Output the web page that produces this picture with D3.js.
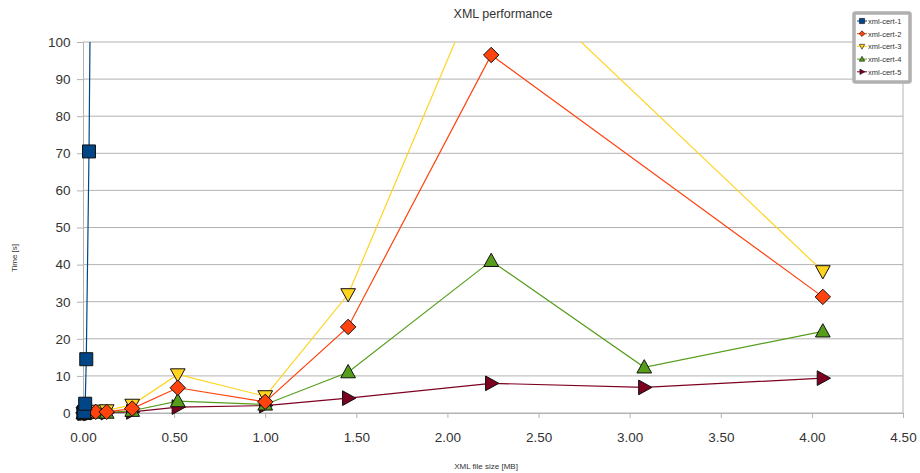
<!DOCTYPE html>
<html>
<head>
<meta charset="utf-8">
<script src="https://cdn.jsdelivr.net/npm/d3@7/dist/d3.min.js"></script>
<style>
  html, body { margin: 0; padding: 0; background: #fff; }
  svg { display: block; font-family: "Liberation Sans", "DejaVu Sans", sans-serif; }
</style>
</head>
<body>
<svg id="chart" width="920" height="473"></svg>
<script>
// ---- data ----
const sizes = [0.002, 0.006, 0.012, 0.018, 0.033, 0.07, 0.13, 0.27, 0.52, 1.0, 1.455, 2.24, 3.08, 4.06];
const seriesNames = ["xml-cert-1", "xml-cert-2", "xml-cert-3", "xml-cert-4", "xml-cert-5"];
const cert1 = [0, 0.3, 2.5, 14.5, 70.5, 280, null, null, null, null, null, null, null, null];
const cert2 = [0, 0, 0.1, 0.1, 0.2, 0.3, 0.3, 1.2, 6.8, 3.0, 23.2, 96.5, null, 31.3];
const cert3 = [0, 0, 0.1, 0.2, 0.3, 0.6, 0.7, 2.2, 10.4, 4.5, 32, 123, null, 38.2];
const cert4 = [0, 0, 0, 0.1, 0.1, 0.1, 0.1, 0.6, 3.2, 2.3, 11, 41, 12.3, 22];
const cert5 = [0, 0, 0, 0, 0.1, 0.1, 0.1, 0.3, 1.6, 2.0, 4.0, 8.0, 6.9, 9.4];
const xTicks = [0, 0.5, 1, 1.5, 2, 2.5, 3, 3.5, 4, 4.5];
const yTicks = [0, 10, 20, 30, 40, 50, 60, 70, 80, 90, 100];
const colors = ["#004586", "#ff420e", "#ffd320", "#579d1c", "#7e0021"];
const shapes = ["square", "diamond", "down", "up", "right"];
const allSeries = [cert1, cert2, cert3, cert4, cert5];

// ---- layout ----
const svg = d3.select("#chart");
const L = 83, R = 903, T = 42, B = 413;
const x = d3.scaleLinear().domain([0, 4.5]).range([L, R]);
const y = d3.scaleLinear().domain([0, 100]).range([B, T]);

svg.append("defs").append("clipPath").attr("id", "clip")
  .append("rect").attr("x", L - 10).attr("y", T).attr("width", R - L + 20).attr("height", B - T + 10);

// gridlines
svg.append("g").selectAll("line").data(yTicks).join("line")
  .attr("x1", L).attr("x2", R).attr("y1", d => y(d)).attr("y2", d => y(d))
  .attr("stroke", "#b3b3b3").attr("stroke-width", 1);

// right border
svg.append("line").attr("x1", R).attr("x2", R).attr("y1", T).attr("y2", B)
  .attr("stroke", "#b3b3b3");

// axes
const xAxis = svg.append("g").attr("transform", `translate(0,${B})`)
  .call(d3.axisBottom(x).tickValues(xTicks).tickFormat(d3.format(".2f")).tickSize(5).tickSizeOuter(0));
const yAxis = svg.append("g").attr("transform", `translate(${L},0)`)
  .call(d3.axisLeft(y).tickValues(yTicks).tickFormat(d3.format("d")).tickSize(6).tickSizeOuter(0));
[xAxis, yAxis].forEach(g => {
  g.select(".domain").attr("stroke", "#b3b3b3");
  g.selectAll(".tick line").attr("stroke", "#b3b3b3");
  g.selectAll(".tick text").attr("fill", "#333").attr("font-size", 13.5)
    .attr("font-family", "Liberation Sans, DejaVu Sans, sans-serif");
});
xAxis.selectAll(".tick text").attr("dy", "1.55em");
yAxis.selectAll(".tick text").attr("dx", "-0.25em");

// symbol path generator
function symbolPath(shape, s) {
  switch (shape) {
    case "square": return `M${-s},${-s}H${s}V${s}H${-s}Z`;
    case "diamond": { const d = s * 1.1; return `M0,${-d}L${d},0L0,${d}L${-d},0Z`; }
    case "up": return `M0,${-s * 1.1}L${s * 1.05},${s * 0.8}L${-s * 1.05},${s * 0.8}Z`;
    case "down": return `M0,${s * 1.1}L${s * 1.05},${-s * 0.8}L${-s * 1.05},${-s * 0.8}Z`;
    case "right": return `M${s * 1.1},0L${-s * 0.8},${s * 1.05}L${-s * 0.8},${-s * 1.05}Z`;
  }
}

const plot = svg.append("g").attr("clip-path", "url(#clip)");
const line = d3.line().defined(d => d[1] != null).x(d => x(d[0])).y(d => y(d[1]));
const order = [4, 3, 2, 1, 0];

order.forEach(i => {
  const vals = allSeries[i];
  const pts = sizes.map((s, j) => [s, vals[j]]).filter(d => d[1] != null);
  plot.append("path").datum(pts).attr("d", line)
    .attr("fill", "none").attr("stroke", colors[i]).attr("stroke-width", 1.2);
});
// markers: last series drawn first so the first series lies on top
order.forEach(i => {
  const vals = allSeries[i];
  const pts = sizes.map((s, j) => [s, vals[j]]).filter(d => d[1] != null && d[1] <= 100);
  plot.append("g").selectAll("path").data(pts).join("path")
    .attr("transform", d => `translate(${x(d[0])},${y(d[1])})`)
    .attr("d", symbolPath(shapes[i], i === 0 ? 6.5 : 7))
    .attr("fill", colors[i]).attr("stroke", "#111").attr("stroke-width", 1);
});

// title
svg.append("text").attr("x", 503).attr("y", 18).attr("text-anchor", "middle")
  .attr("font-size", 12.5).attr("fill", "#333").text("XML performance");
// axis titles
svg.append("text").attr("x", 486).attr("y", 469).attr("text-anchor", "middle")
  .attr("font-size", 8).attr("fill", "#333").text("XML file size [MB]");
svg.append("text").attr("transform", "translate(17,258) rotate(-90)").attr("text-anchor", "middle")
  .attr("font-size", 8).attr("fill", "#333").text("Time [s]");

// legend
const lg = svg.append("g");
lg.append("rect").attr("x", 854).attr("y", 13).attr("width", 56).attr("height", 69)
  .attr("fill", "#fff").attr("stroke", "#b0b0b0").attr("stroke-width", 3.5).attr("rx", 1.5);
seriesNames.forEach((name, i) => {
  const yy = 21 + i * 12.7;
  lg.append("line").attr("x1", 857).attr("x2", 867).attr("y1", yy).attr("y2", yy)
    .attr("stroke", colors[i]).attr("stroke-width", 1);
  lg.append("path").attr("transform", `translate(862,${yy})`).attr("d", symbolPath(shapes[i], 2.6))
    .attr("fill", colors[i]).attr("stroke", "#111").attr("stroke-width", 0.6);
  lg.append("text").attr("x", 868).attr("y", yy + 3).attr("font-size", 7.5).attr("fill", "#333").text(name);
});
</script>
</body>
</html>
